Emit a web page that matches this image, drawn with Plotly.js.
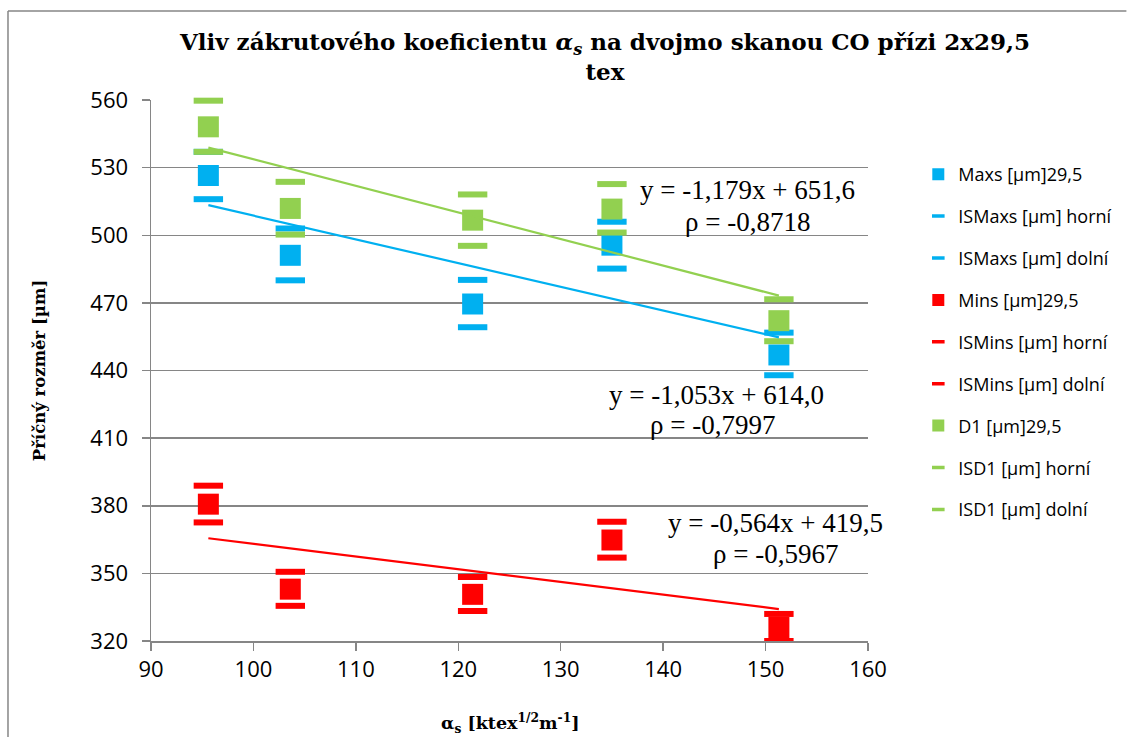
<!DOCTYPE html>
<html>
<head>
<meta charset="utf-8">
<script src="https://cdn.plot.ly/plotly-3.0.1.min.js"></script>
<style>html,body{margin:0;padding:0;background:#fff;}#chart{width:1129px;height:737px;}</style>
</head>
<body>
<div id="chart"></div>
<script>
// ---- data ----
var alphaS     = [95.6, 103.6, 121.4, 135.0, 151.3];
var maxs       = [526.5, 491.1, 469.5, 495.6, 446.9];
var maxsHorni  = [537.0, 503.0, 480.2, 506.0, 456.8];
var maxsDolni  = [516.0, 480.0, 459.2, 485.2, 437.9];
var mins       = [380.7, 343.0, 340.7, 364.8, 326.0];
var minsHorni  = [388.9, 350.7, 348.4, 372.9, 332.0];
var minsDolni  = [372.6, 335.6, 333.3, 357.0, 320.0];
var d1         = [548.1, 511.9, 506.7, 511.6, 462.1];
var d1Horni    = [559.7, 523.7, 518.1, 522.7, 471.6];
var d1Dolni    = [537.0, 500.3, 495.3, 501.2, 453.0];
// trendline coefficients shown in the chart (Maxs, Mins, D1)
var trendSlope     = [-1.053, -0.564, -1.179];
var trendIntercept = [614.0, 419.5, 651.6];
var trendRho       = ['-0,7997', '-0,5967', '-0,8718'];
var seriesNames = ['Maxs [µm]29,5','ISMaxs [µm] horní','ISMaxs [µm] dolní',
                   'Mins [µm]29,5','ISMins [µm] horní','ISMins [µm] dolní',
                   'D1 [µm]29,5','ISD1 [µm] horní','ISD1 [µm] dolní'];
var xTitle = '<b>α<sub>s</sub> [ktex<sup>1/2</sup>m<sup>-1</sup>]</b>';

var BLUE = '#00B0F0', RED = '#FF0000', GREEN = '#92D050';

function sq(name, y, color, g, clip) {
  return {type:'scatter', mode:'markers', name:name, x:alphaS, y:y, legendgroup:g,
    cliponaxis: clip, showlegend:false,
    marker:{symbol:'square', size:21, color:color, line:{width:0}}, hoverinfo:'x+y'};
}
function dash(name, y, color, g, clip) {
  return {type:'scatter', mode:'markers', name:name, x:alphaS, y:y, legendgroup:g,
    cliponaxis: clip, showlegend:false,
    marker:{symbol:'line-ew', size:21, color:color, line:{width:6, color:color}}, hoverinfo:'x+y'};
}
// legend entries (same series, drawn at legend scale)
function legSq(name, color, g) {
  return {type:'scatter', mode:'markers', name:name, x:[null], y:[null], legendgroup:g,
    marker:{symbol:'square', size:12, color:color, line:{width:0}}};
}
function legDash(name, color, g) {
  return {type:'scatter', mode:'markers', name:name, x:[null], y:[null], legendgroup:g,
    marker:{symbol:'line-ew', size:9, color:color, line:{width:3.5, color:color}}};
}
function trend(i, color) {
  var x0 = Math.min.apply(null, alphaS), x1 = Math.max.apply(null, alphaS);
  return {type:'scatter', mode:'lines', x:[x0, x1],
    y:[trendSlope[i]*x0 + trendIntercept[i], trendSlope[i]*x1 + trendIntercept[i]],
    line:{color:color, width:2.2}, showlegend:false, hoverinfo:'skip'};
}

var data = [
  sq(seriesNames[0], maxs, BLUE, 'g0', true),
  dash(seriesNames[1], maxsHorni, BLUE, 'g1', true),
  dash(seriesNames[2], maxsDolni, BLUE, 'g2', true),
  sq(seriesNames[3], mins, RED, 'g3', true),
  dash(seriesNames[4], minsHorni, RED, 'g4', true),
  dash(seriesNames[5], minsDolni, RED, 'g5', true),
  sq(seriesNames[6], d1, GREEN, 'g6', false),
  dash(seriesNames[7], d1Horni, GREEN, 'g7', false),
  dash(seriesNames[8], d1Dolni, GREEN, 'g8', false),
  trend(0, BLUE), trend(1, RED), trend(2, GREEN),
  legSq(seriesNames[0], BLUE, 'g0'),
  legDash(seriesNames[1], BLUE, 'g1'),
  legDash(seriesNames[2], BLUE, 'g2'),
  legSq(seriesNames[3], RED, 'g3'),
  legDash(seriesNames[4], RED, 'g4'),
  legDash(seriesNames[5], RED, 'g5'),
  legSq(seriesNames[6], GREEN, 'g6'),
  legDash(seriesNames[7], GREEN, 'g7'),
  legDash(seriesNames[8], GREEN, 'g8')
];

function fmt(v, d) { return v.toFixed(d).replace('.', ','); }
function eqText(i) {
  var s = trendSlope[i];
  return 'y = ' + (s < 0 ? '-' : '') + fmt(Math.abs(s), 3) + 'x + ' + fmt(trendIntercept[i], 1);
}

// pixel -> paper helpers (plot area: x 151..878, y 100..641)
function px(p){ return (p - 151) / 727; }
function py(p){ return (641 - p) / 541; }

var eqFont = {family:'Liberation Serif, serif', size:27, color:'#000'};
var annotations = [
  {text:eqText(2), x:px(756), y:py(190)},
  {text:'ρ = ' + trendRho[2], x:px(756), y:py(222)},
  {text:eqText(0), x:px(724), y:py(395)},
  {text:'ρ = ' + trendRho[0], x:px(720), y:py(425)},
  {text:eqText(1), x:px(784), y:py(523)},
  {text:'ρ = ' + trendRho[1], x:px(784), y:py(554)}
].map(function(a){
  return {text:a.text, x:a.x, y:a.y, xref:'paper', yref:'paper', xanchor:'center', yanchor:'middle',
          showarrow:false, font:eqFont};
});
// x-axis title (placed lower than the margin allows for an axis title)
annotations.push({text:xTitle, x:0.5, y:py(723), xref:'paper', yref:'paper',
  xanchor:'center', yanchor:'middle', showarrow:false,
  font:{family:'DejaVu Serif, serif', size:17.5, color:'#000'}});

var layout = {
  width:1129, height:737,
  margin:{l:151, r:251, t:100, b:96, pad:0},
  paper_bgcolor:'#fff', plot_bgcolor:'#fff',
  title:{text:'<b>Vliv zákrutového koeficientu <i>α</i><sub><i>s</i></sub> na dvojmo skanou CO přízi 2x29,5<br>tex</b>',
    font:{family:'DejaVu Serif, serif', size:23, color:'#000'},
    x:605/1129, xanchor:'center', xref:'container', y:1-50/737, yanchor:'top', yref:'container'},
  xaxis:{range:[90,160], tick0:90, dtick:10, showgrid:false, zeroline:false,
    showline:true, linecolor:'#868686', linewidth:1.5,
    ticks:'outside', ticklen:8, tickcolor:'#868686', tickwidth:1.5,
    tickfont:{family:'Open Sans, sans-serif', size:22, color:'#000'}},
  yaxis:{range:[320,560], tick0:320, dtick:30, showgrid:true, gridcolor:'#868686', gridwidth:1.5,
    zeroline:false, showline:true, linecolor:'#868686', linewidth:1.5,
    ticks:'outside', ticklen:8, tickcolor:'#868686', tickwidth:1.5,
    ticklabelstandoff:9,
    tickfont:{family:'Open Sans, sans-serif', size:22, color:'#000'},
    title:{text:'<b>Příčný rozměr [µm]</b>', standoff:40,
      font:{family:'DejaVu Serif, serif', size:16.5, color:'#000'}}},
  legend:{x:px(929), y:py(156), xanchor:'left', yanchor:'top', traceorder:'grouped',
    tracegroupgap:15.5, bgcolor:'rgba(0,0,0,0)',
    font:{family:'Open Sans, sans-serif', size:18, color:'#000'}},
  annotations:annotations,
  shapes:[
    {type:'line', xref:'paper', yref:'paper', x0:px(6), x1:px(6), y0:py(11), y1:py(745),
     line:{color:'#868686', width:1.5}},
    {type:'line', xref:'paper', yref:'paper', x0:px(6), x1:px(1140), y0:py(11), y1:py(11),
     line:{color:'#868686', width:1.5}}
  ],
  showlegend:true
};

Plotly.newPlot('chart', data, layout, {displayModeBar:false, staticPlot:true});
</script>
</body>
</html>
